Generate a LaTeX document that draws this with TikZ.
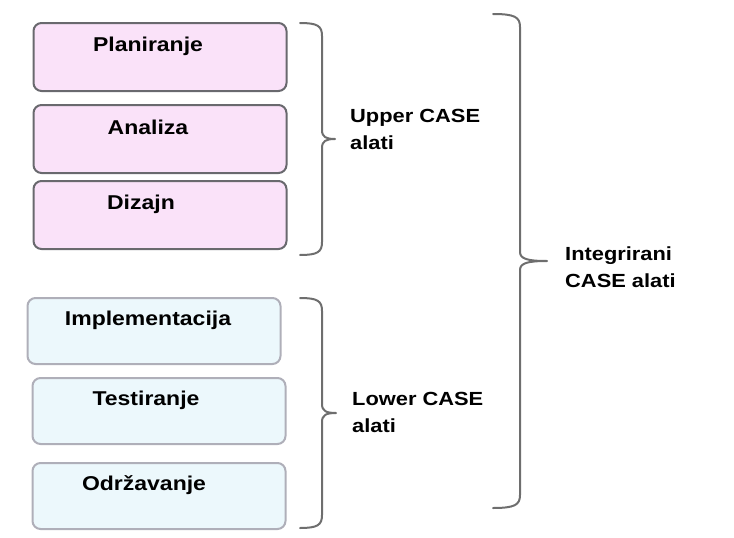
\documentclass[tikz,border=0pt]{standalone}
\usepackage{fontspec}
\setmainfont{Liberation Sans}[FakeStretch=1.15]
\usetikzlibrary{positioning}
\definecolor{pinkfill}{RGB}{250,226,249}
\definecolor{pinkline}{RGB}{105,105,110}
\definecolor{bluefill}{RGB}{236,248,252}
\definecolor{blueline}{RGB}{175,175,185}
\definecolor{bracegray}{RGB}{110,110,110}
\tikzset{
  upperbox/.style={draw=pinkline, fill=pinkfill, line width=2pt, rounded corners=8pt,
    minimum width=253pt, minimum height=68pt, inner sep=0pt},
  lowerbox/.style={draw=blueline, fill=bluefill, line width=2pt, rounded corners=8pt,
    minimum width=253pt, minimum height=66pt, inner sep=0pt},
  boxtext/.style={font=\bfseries\fontsize{20}{26}\selectfont, inner sep=0pt, anchor=north},
  sidetext/.style={font=\bfseries\fontsize{19}{27}\selectfont, inner sep=0pt, anchor=north west, align=left},
  bracepath/.style={draw=bracegray, line width=2pt, line cap=round},
}
% brace: x of ends, top, bottom, hook width, tip width
\newcommand{\casebrace}[5]{%
  \draw[bracepath] (#1,#2) .. controls ({#1+0.8*#4},#2) and ({#1+#4},{#2+3}) .. ({#1+#4},{#2+13})
    -- ({#1+#4},{(#2+#3)/2-9}) .. controls ({#1+#4},{(#2+#3)/2-2}) and ({#1+#4+0.3*#5},{(#2+#3)/2}) .. ({#1+#4+#5},{(#2+#3)/2})
    ({#1+#4+#5},{(#2+#3)/2}) .. controls ({#1+#4+0.3*#5},{(#2+#3)/2}) and ({#1+#4},{(#2+#3)/2+2}) .. ({#1+#4},{(#2+#3)/2+9})
    -- ({#1+#4},{#3-13}) .. controls ({#1+#4},{#3-3}) and ({#1+0.8*#4},#3) .. (#1,#3);}
\begin{document}
\begin{tikzpicture}[x=1pt,y=-1pt]
\useasboundingbox (0,0) rectangle (734,538);
% Upper CASE phases
\node[upperbox] (plan) at (160,57) {};
\node[boxtext, below=15pt of plan.north, xshift=-12pt] (plantxt) {Planiranje};
\node[upperbox] (anal) at (160,139) {};
\node[boxtext, below=16pt of anal.north, xshift=-12pt] (analtxt) {Analiza};
\node[upperbox] (diz) at (160,215) {};
\node[boxtext, below=15pt of diz.north, xshift=-19pt] (diztxt) {Dizajn};
% Lower CASE phases
\node[lowerbox] (impl) at (154,331) {};
\node[boxtext, below=14pt of impl.north, xshift=-6pt] (impltxt) {Implementacija};
\node[lowerbox] (test) at (159,411) {};
\node[boxtext, below=14pt of test.north, xshift=-13pt] (testtxt) {Testiranje};
\node[lowerbox] (odr) at (159,496) {};
\node[boxtext, below=13pt of odr.north, xshift=-15pt] (odrtxt) {Održavanje};
% Braces
\casebrace{300}{23}{255}{22}{13}
\casebrace{300}{298}{528}{22}{14}
\casebrace{493}{14}{508}{27}{27}
% Labels
\node[sidetext] (upper) at (350,109) {Upper CASE\\alati};
\node[sidetext] (lower) at (352,392) {Lower CASE\\alati};
\node[sidetext] (integ) at (565,247) {Integrirani\\CASE alati};
\end{tikzpicture}
\end{document}
